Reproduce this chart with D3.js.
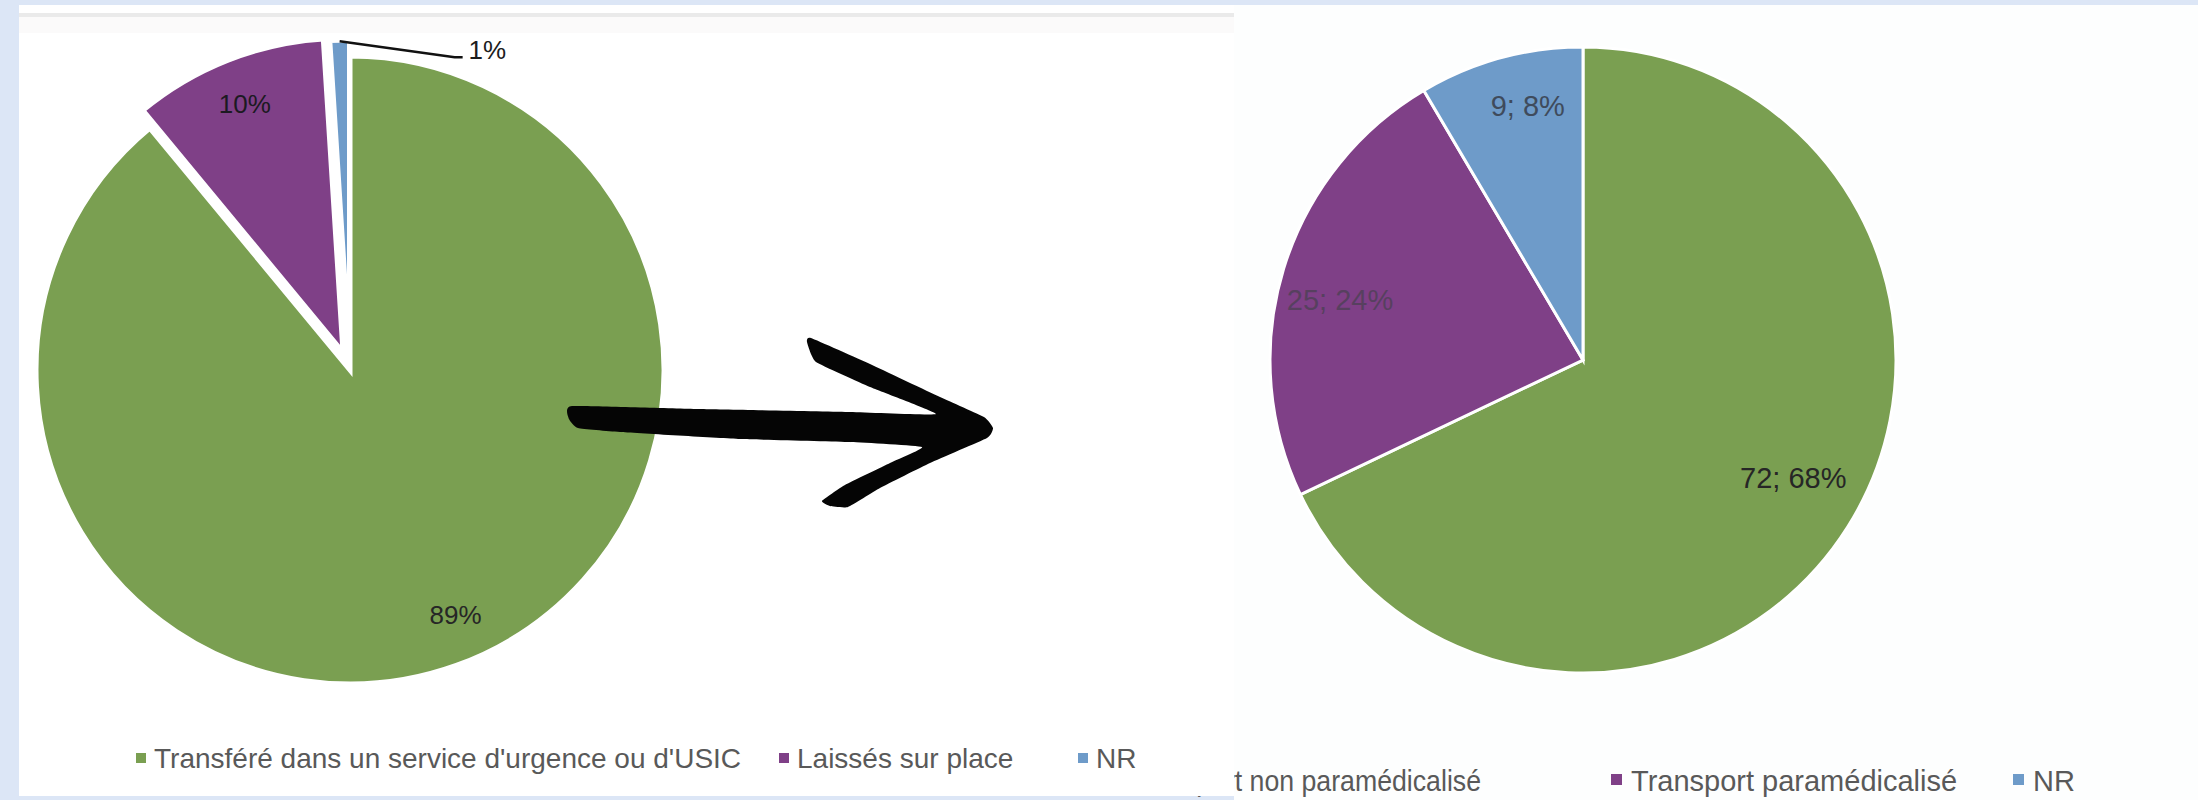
<!DOCTYPE html>
<html>
<head>
<meta charset="utf-8">
<script src="https://cdn.jsdelivr.net/npm/d3@7"></script>
<style>
  body { margin: 0; background: #dce6f6; }
  svg { display: block; font-family: 'Liberation Sans', Arial, sans-serif; }
</style>
</head>
<body>
<svg id="chart" width="2198" height="800"></svg>
<script>
// left chart: outcome of the patients (percent)
const leftCategories = ["Transféré dans un service d'urgence ou d'USIC", 'Laissés sur place', 'NR']
const leftPercents = [89, 10, 1]

// right chart: type of transport (count ; percent)
const rightCategories = ['Transport non paramédicalisé', 'Transport paramédicalisé', 'NR']
const rightCounts = [72, 25, 9]
const rightPercents = [68, 24, 8]

const sliceColors = ['#7a9f51', '#7f4087', '#6e9bc9']

const svg = d3.select('#chart')
const width = 2198
const height = 800

// backdrop + the two screenshot panels
svg.append('rect').attr('width', width).attr('height', height).attr('fill', '#dce6f6')
const rightPanel = svg.append('g')
rightPanel.append('rect').attr('x', 1234).attr('y', 5).attr('width', width - 1234).attr('height', height - 5).attr('fill', '#fdfefe')

const pie = d3.pie().sort(null).startAngle(0).endAngle(2 * Math.PI)
const mid = d => (d.startAngle + d.endAngle) / 2
const rad = deg => (deg * Math.PI) / 180

function drawPie(g, values, opts) {
	const arcs = pie(values)
	const arc = d3.arc().innerRadius(0).outerRadius(opts.radius)
	const shift = (d, i) => {
		const off = opts.explode[i]
		return [off * Math.sin(mid(d)), -off * Math.cos(mid(d))]
	}
	// label position: mid angle (nudged a little like excel's best fit) at a fraction of the radius
	const labelPos = d => {
		const a = mid(d) + rad(opts.labelNudge[d.index])
		const r = opts.radius * opts.labelFrac[d.index]
		return [r * Math.sin(a), -r * Math.cos(a)]
	}

	const slices = g
		.append('g')
		.attr('transform', `translate(${opts.cx},${opts.cy})`)
		.selectAll('g')
		.data(arcs)
		.join('g')
		.attr('transform', (d, i) => `translate(${shift(d, i)})`)

	slices
		.append('path')
		.attr('d', arc)
		.attr('fill', (d, i) => sliceColors[i])
		.attr('stroke', '#fff')
		.attr('stroke-width', opts.strokeWidth)
		.attr('stroke-linejoin', 'miter')

	slices
		.filter((d, i) => !opts.leader[i])
		.append('text')
		.attr('transform', d => `translate(${labelPos(d)})`)
		.attr('text-anchor', 'middle')
		.attr('dy', '0.35em')
		.attr('font-size', opts.fontSize)
		.attr('fill', d => opts.labelColors[d.index])
		.text(d => opts.labels[d.index])

	// leader-line labels (small slices)
	slices
		.filter((d, i) => opts.leader[i])
		.each(function (d) {
			const sel = d3.select(this)
			const [ox, oy] = d3.arc().innerRadius(opts.radius).outerRadius(opts.radius).centroid(d)
			const bend = [ox + 115, oy + 17]
			const end = [bend[0] + 8, bend[1]]
			sel
				.append('path')
				.attr('d', d3.line()([[ox, oy + 1], bend, end]))
				.attr('fill', 'none')
				.attr('stroke', '#111')
				.attr('stroke-width', 2.5)
			sel
				.append('text')
				.attr('x', end[0] + 6)
				.attr('y', end[1] + 2)
				.attr('font-size', opts.fontSize)
				.attr('fill', '#1c1c1c')
				.text(opts.labels[d.index])
		})
}

function drawLegend(g, categories, items, opts) {
	const item = g
		.selectAll('g.legend-item')
		.data(categories)
		.join('g')
		.attr('class', 'legend-item')

	item
		.append('text')
		.attr('font-size', opts.fontSize)
		.attr('fill', '#595959')
		.attr('y', opts.baseline)
		.text(d => d)

	item.each(function (d, i) {
		const it = d3.select(this)
		const txt = it.select('text')
		if (items[i].fitLength) txt.attr('textLength', items[i].fitLength).attr('lengthAdjust', 'spacingAndGlyphs')
		const len = items[i].fitLength || txt.node().getComputedTextLength()
		let sx = items[i].square
		if (items[i].textEnd !== undefined) sx = items[i].textEnd - len - opts.gap
		txt.attr('x', sx + opts.gap)
		it.insert('rect', 'text')
			.attr('x', sx)
			.attr('y', opts.squareY)
			.attr('width', opts.square)
			.attr('height', opts.square)
			.attr('fill', sliceColors[i])
	})
}

// ---------- right chart ----------
drawPie(rightPanel, rightCounts, {
	cx: 1583,
	cy: 360,
	radius: 313,
	explode: [0, 0, 0],
	strokeWidth: 3,
	fontSize: 29,
	labelFrac: [0.77, 0.8, 0.83],
	labelNudge: [-3, -3, 3],
	leader: [false, false, false],
	labels: rightCounts.map((c, i) => `${c}; ${rightPercents[i]}%`),
	labelColors: ['#262626', '#57405f', '#3f4b5c'],
})

drawLegend(rightPanel.append('g'), rightCategories, [{ textEnd: 1481, fitLength: 352 }, { square: 1611 }, { square: 2013 }], {
	fontSize: 29,
	baseline: 791,
	squareY: 774,
	square: 11,
	gap: 20,
})

// ---------- left chart (screenshot lies above the right one) ----------
const leftPanel = svg.append('g')
leftPanel.append('rect').attr('x', 19).attr('y', 5).attr('width', 1234 - 19).attr('height', 791).attr('fill', '#ffffff')
leftPanel.append('rect').attr('x', 19).attr('y', 13).attr('width', 1234 - 19).attr('height', 4).attr('fill', '#eaeaea')
leftPanel.append('rect').attr('x', 19).attr('y', 17).attr('width', 1234 - 19).attr('height', 16).attr('fill', '#fbfafa')

drawPie(leftPanel, leftPercents, {
	cx: 350,
	cy: 370,
	radius: 314,
	explode: [0, 19, 16],
	strokeWidth: 5,
	fontSize: 26,
	labelFrac: [0.85, 0.85, 1],
	labelNudge: [-3.5, 0, 0],
	leader: [false, false, true],
	labels: leftPercents.map(p => `${p}%`),
	labelColors: ['#262626', '#1c1a22', '#1c1c1c'],
})

drawLegend(leftPanel.append('g'), leftCategories, [{ square: 136 }, { square: 779 }, { square: 1078 }], {
	fontSize: 28,
	baseline: 768,
	squareY: 753,
	square: 10,
	gap: 18,
})

// hand drawn arrow between the two charts
const arrowOutline = [
	[572, 406], [700, 409], [850, 412], [936, 414],
	[870, 387], [816, 362], [807, 342], [811, 338], [870, 364], [940, 397], [984, 417],
	[993, 428], [987, 438], [930, 463], [880, 488], [848, 507], [830, 506], [822, 501],
	[845, 485], [890, 463], [922, 447], [850, 442], [740, 439], [620, 432], [578, 428], [569, 419],
]
leftPanel
	.append('path')
	.attr('d', d3.line().curve(d3.curveCardinalClosed.tension(0.6))(arrowOutline))
	.attr('fill', '#050505')
</script>
</body>
</html>
